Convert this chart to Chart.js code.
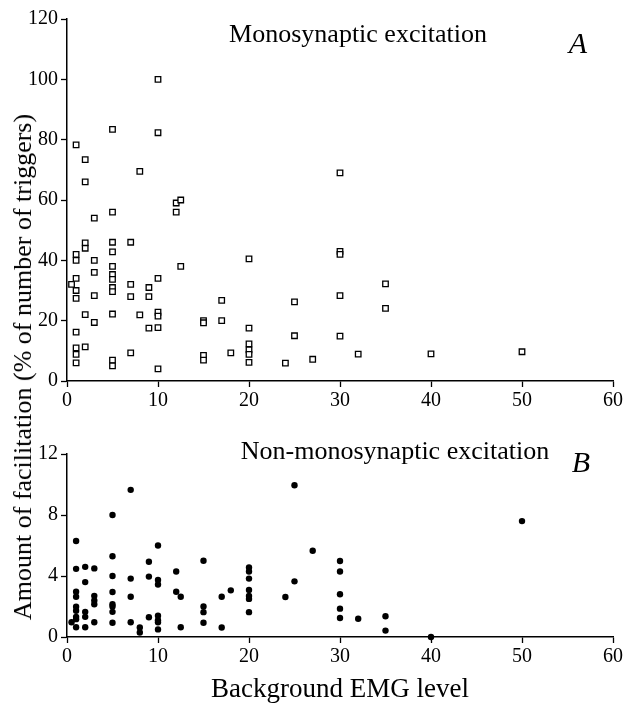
<!DOCTYPE html>
<html>
<head>
<meta charset="utf-8">
<script src="https://cdn.jsdelivr.net/npm/chart.js@4.4.0/dist/chart.umd.min.js"></script>
<style>
  body { margin: 0; background: #fff; }
  #wrap { position: relative; width: 626px; height: 708px; background: #fff; }
  .box { position: absolute; left: 0; width: 626px; }
  #ylabel {
    position: absolute; left: 23px; top: 367px;
    transform: translate(-50%, -50%) rotate(-90deg);
    white-space: nowrap; font: 26px "Liberation Serif", serif; color: #000;
  }
</style>
</head>
<body>
<div id="wrap">
  <div class="box" style="top:0;height:420px"><canvas id="topChart"></canvas></div>
  <div class="box" style="top:420px;height:288px"><canvas id="bottomChart"></canvas></div>
  <div id="ylabel">Amount of facilitation (% of number of triggers)</div>
</div>
<script>
// A: monosynaptic excitation (% of triggers)
const monoX = [0.5,
  1, 1, 1, 1, 1, 1, 1, 1, 1, 1,
  2, 2, 2, 2, 2, 2,
  3, 3, 3, 3, 3,
  5, 5, 5, 5, 5, 5, 5, 5, 5, 5, 5, 5,
  7, 7, 7, 7,
  8, 8,
  9, 9, 9,
  10, 10, 10, 10, 10, 10, 10,
  12, 12, 12.5, 12.5,
  15, 15, 15, 15,
  17, 17, 18,
  20, 20, 20, 20, 20, 20,
  24, 25, 25, 27,
  30, 30, 30, 30, 30,
  32, 35, 35, 40, 50];
const monoY = [32,
  78.3, 42, 40, 34, 30, 27.4, 16.2, 11, 8.8, 6,
  73.4, 66, 45.8, 44, 22, 11.3,
  54, 40, 36, 28.3, 19.4,
  83.4, 56, 46, 42.8, 38, 35.3, 33.7, 31, 29.6, 22.2, 6.9, 5,
  46, 32, 28, 9.3,
  69.5, 21.9,
  31, 28, 17.5,
  100, 82.3, 34, 22.8, 21.5, 17.7, 4,
  59, 56, 60, 38,
  20, 19.3, 8.5, 6.9,
  26.7, 20, 9.3,
  40.5, 17.5, 12.3, 10.3, 8.8, 6.2,
  5.9, 26.2, 15, 7.2,
  69, 43, 42, 28.3, 14.9,
  8.9, 32.2, 24.1, 9, 9.7];

// B: non-monosynaptic excitation
const nonMonoX = [0.5,
  1, 1, 1, 1, 1, 1, 1, 1, 1,
  2, 2, 2, 2, 2,
  3, 3, 3, 3, 3,
  5, 5, 5, 5, 5, 5, 5, 5,
  7, 7, 7, 7,
  8, 8,
  9, 9, 9,
  10, 10, 10, 10, 10, 10, 10,
  12, 12, 12.5, 12.5,
  15, 15, 15, 15,
  17, 17, 18,
  20, 20, 20, 20, 20, 20, 20,
  24, 25, 25, 27,
  30, 30, 30, 30, 30,
  32, 35, 35, 40, 50];
const nonMonoY = [0.97,
  6.3, 4.47, 2.97, 2.64, 1.98, 1.72, 1.32, 1.17, 0.64,
  4.6, 3.6, 1.65, 1.32, 0.64,
  4.5, 2.7, 2.4, 2.15, 0.97,
  8, 5.3, 4, 2.95, 2.15, 2, 1.65, 0.93,
  9.65, 3.83, 2.64, 0.97,
  0.62, 0.3,
  4.93, 3.96, 1.3,
  6, 3.74, 3.44, 1.39, 1.1, 0.97, 0.5,
  4.3, 2.97, 2.64, 0.64,
  5, 2, 1.63, 0.93,
  2.64, 0.62, 3.06,
  4.56, 4.3, 3.83, 3.08, 2.69, 2.5, 1.63,
  2.62, 9.95, 3.65, 5.66,
  4.98, 4.3, 2.8, 1.86, 1.25,
  1.2, 1.36, 0.42, 0, 7.6];

const xTicks = [0, 10, 20, 30, 40, 50, 60];
const monoTicks = [0, 20, 40, 60, 80, 100, 120];
const nonMonoTicks = [0, 4, 8, 12];

const serif = '"Liberation Serif", serif';

// titulos de panel y letra A / B
const panelText = {
  id: 'panelText',
  afterDraw(chart, args, opts) {
    const ctx = chart.ctx;
    ctx.save();
    ctx.fillStyle = '#000';
    ctx.textAlign = 'center';
    ctx.textBaseline = 'alphabetic';
    ctx.font = '26px ' + serif;
    ctx.fillText(opts.title, opts.titleX, opts.titleY);
    ctx.font = 'italic 30px ' + serif;
    ctx.fillText(opts.letter, opts.letterX, opts.letterY);
    ctx.restore();
  }
};

function makeScales(yTicks, xHeight, xTitle) {
  const common = {
    border: { display: true, color: '#000', width: 1.5 },
    grid: { display: true, drawOnChartArea: false, drawTicks: true, tickLength: 6, tickWidth: 1.3, tickColor: '#000' },
  };
  return {
    x: {
      type: 'linear', min: 0, max: 60,
      ...common,
      afterBuildTicks: s => { s.ticks = xTicks.map(v => ({ value: v })); },
      afterFit: s => { s.height = xHeight; },
      ticks: { color: '#000', padding: 2, maxRotation: 0, font: { family: serif, size: 20 } },
      title: {
        display: !!xTitle, text: xTitle || '', color: '#000',
        font: { family: serif, size: 27 }, padding: { top: 0, bottom: 2 }
      }
    },
    y: {
      type: 'linear', min: yTicks[0], max: yTicks[yTicks.length - 1],
      ...common,
      afterBuildTicks: s => { s.ticks = yTicks.map(v => ({ value: v })); },
      afterFit: s => { s.width = 67; },
      ticks: { color: '#000', padding: 3, font: { family: serif, size: 20 } }
    }
  };
}

new Chart(document.getElementById('topChart'), {
  type: 'scatter',
  data: {
    datasets: [{
      data: monoX.map((x, i) => ({ x: x, y: monoY[i] })),
      pointStyle: 'rect',
      pointRadius: 3.9,
      backgroundColor: '#fff',
      borderColor: '#000',
      borderWidth: 1.3,
      clip: false
    }]
  },
  options: {
    responsive: true,
    maintainAspectRatio: false,
    animation: false,
    layout: { padding: { top: 19, right: 13, left: 0, bottom: 0 } },
    plugins: {
      legend: { display: false },
      tooltip: { enabled: false },
      panelText: { title: 'Monosynaptic excitation', titleX: 358, titleY: 42, letter: 'A', letterX: 578, letterY: 53 }
    },
    scales: makeScales(monoTicks, 39, null)
  },
  plugins: [panelText]
});

new Chart(document.getElementById('bottomChart'), {
  type: 'scatter',
  data: {
    datasets: [{
      data: nonMonoX.map((x, i) => ({ x: x, y: nonMonoY[i] })),
      pointStyle: 'circle',
      pointRadius: 3.2,
      backgroundColor: '#000',
      borderColor: '#000',
      borderWidth: 0,
      clip: false
    }]
  },
  options: {
    responsive: true,
    maintainAspectRatio: false,
    animation: false,
    layout: { padding: { top: 34, right: 13, left: 0, bottom: 0 } },
    plugins: {
      legend: { display: false },
      tooltip: { enabled: false },
      panelText: { title: 'Non-monosynaptic excitation', titleX: 395, titleY: 39, letter: 'B', letterX: 581, letterY: 52 }
    },
    scales: makeScales(nonMonoTicks, 71, 'Background EMG level')
  },
  plugins: [panelText]
});
</script>
</body>
</html>
